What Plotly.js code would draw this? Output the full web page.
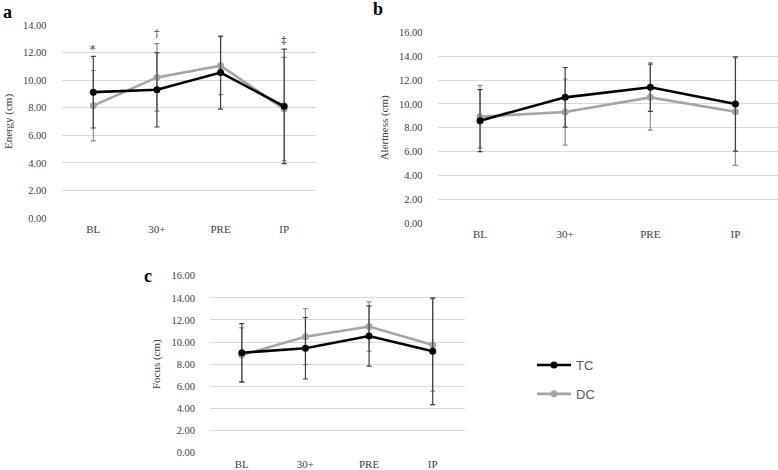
<!DOCTYPE html>
<html>
<head>
<meta charset="utf-8">
<script src="https://cdn.plot.ly/plotly-3.0.1.min.js"></script>
<style>html,body{margin:0;padding:0;background:#fff;}#chart{width:778px;height:470px;}</style>
</head>
<body>
<div id="chart"></div>
<script>
// ---- data ----
const timepoints = ["BL", "30+", "PRE", "IP"];
const seriesNames = ["TC", "DC"];

const energyTC = [9.13, 9.30, 10.55, 8.10];
const energyTCErr = [2.60, 2.70, 2.65, 4.15];
const energyDC = [8.15, 10.20, 11.05, 7.90];
const energyDCErr = [2.55, 2.45, 2.10, 3.75];

const alertTC = [8.60, 10.55, 11.40, 10.00];
const alertTCErr = [2.60, 2.50, 2.03, 3.95];
const alertDC = [8.93, 9.32, 10.55, 9.35];
const alertDCErr = [2.62, 2.77, 2.75, 4.50];

const focusTC = [9.04, 9.44, 10.55, 9.17];
const focusTCErr = [2.63, 2.78, 2.72, 4.82];
const focusDC = [8.83, 10.49, 11.40, 9.74];
const focusDCErr = [2.45, 2.53, 2.23, 4.17];

const energyMarks = ["*", "\u2020", "\u2020", "\u2021"];
const energyMarkY = [12.2, 13.4, 14.1, 12.9];

const panelLabels = ["a", "b", "c"];
const yTitles = ["Energy (cm)", "Alertness (cm)", "Focus (cm)"];

// ---- styles ----
const TC_COLOR = "#000000";
const DC_COLOR = "#a5a5a5";
const TC_ERR = "#404040";
const DC_ERR = "#8c8c8c";
const serif = "Liberation Serif, Times New Roman, serif";

function mk(x, y, err, name, color, errColor, xa, ya, show, rank) {
  return {
    type: "scatter", mode: "lines+markers",
    x: x, y: y, name: name,
    xaxis: xa, yaxis: ya,
    showlegend: show, legendrank: rank, legendgroup: name,
    line: {color: color, width: 2.6},
    marker: {color: color, size: 7},
    error_y: {type: "data", array: err, visible: true, color: errColor, thickness: 1.2, width: 2.5}
  };
}

const data = [
  mk(timepoints, energyDC, energyDCErr, seriesNames[1], DC_COLOR, DC_ERR, "x", "y", true, 2),
  mk(timepoints, energyTC, energyTCErr, seriesNames[0], TC_COLOR, TC_ERR, "x", "y", true, 1),
  mk(timepoints, alertDC, alertDCErr, seriesNames[1], DC_COLOR, DC_ERR, "x2", "y2", false, 2),
  mk(timepoints, alertTC, alertTCErr, seriesNames[0], TC_COLOR, TC_ERR, "x2", "y2", false, 1),
  mk(timepoints, focusDC, focusDCErr, seriesNames[1], DC_COLOR, DC_ERR, "x3", "y3", false, 2),
  mk(timepoints, focusTC, focusTCErr, seriesNames[0], TC_COLOR, TC_ERR, "x3", "y3", false, 1)
];

function xax(domain, anchor) {
  return {
    domain: domain, anchor: anchor, type: "category",
    categoryorder: "array", categoryarray: timepoints,
    range: [-0.5, 3.5], showgrid: false, zeroline: false, showline: false,
    ticks: "", ticklabelstandoff: 3,
    tickfont: {family: serif, size: 11, color: "#404040"}, fixedrange: true
  };
}
function yax(domain, anchor, max, title, standoff) {
  return {
    domain: domain, anchor: anchor, range: [0, max], dtick: 2, tick0: 0,
    tickformat: ".2f", showgrid: true, gridcolor: "#d9d9d9", gridwidth: 1,
    zeroline: false, showline: false, ticks: "", ticklabelstandoff: 14,
    tickfont: {family: serif, size: 10.5, color: "#404040"},
    title: {text: title, font: {family: serif, size: 11, color: "#404040"}, standoff: standoff},
    fixedrange: true
  };
}

const annotations = [];
for (let i = 0; i < timepoints.length; i++) {
  annotations.push({
    xref: "x", yref: "y", x: timepoints[i], y: energyMarkY[i],
    text: energyMarks[i], showarrow: false,
    font: {family: "DejaVu Serif, serif", size: 11, color: "#404040"}, yanchor: "middle"
  });
}
const labelPos = [[7, 12], [378, 9], [148, 276]];
for (let i = 0; i < 3; i++) {
  annotations.push({
    xref: "paper", yref: "paper",
    x: labelPos[i][0] / 778, y: 1 - labelPos[i][1] / 470,
    text: "<b>" + panelLabels[i] + "</b>", showarrow: false,
    xanchor: "center", yanchor: "middle",
    font: {family: serif, size: 18, color: "#000"}
  });
}

const layout = {
  width: 778, height: 470,
  margin: {l: 0, r: 0, t: 0, b: 0},
  paper_bgcolor: "#fff", plot_bgcolor: "#fff",
  xaxis: xax([61.5 / 778, 316 / 778], "y"),
  yaxis: yax([(470 - 218) / 470, (470 - 25) / 470], "x", 14, yTitles[0], 8),
  xaxis2: xax([437.5 / 778, 1.0], "y2"),
  yaxis2: yax([(470 - 223.3) / 470, (470 - 32.3) / 470], "x2", 16, yTitles[1], 8),
  xaxis3: xax([210 / 778, 464.5 / 778], "y3"),
  yaxis3: yax([(470 - 452.7) / 470, (470 - 275.7) / 470], "x3", 16, yTitles[2], 8),
  showlegend: true,
  legend: {
    x: 532 / 778, y: 1 - 350 / 470, xanchor: "left", yanchor: "top",
    font: {family: "Liberation Sans, Arial, sans-serif", size: 13, color: "#595959"},
    tracegroupgap: 9, bgcolor: "rgba(0,0,0,0)", itemwidth: 34
  },
  annotations: annotations
};

Plotly.newPlot("chart", data, layout, {displayModeBar: false, staticPlot: true});
</script>
</body>
</html>
